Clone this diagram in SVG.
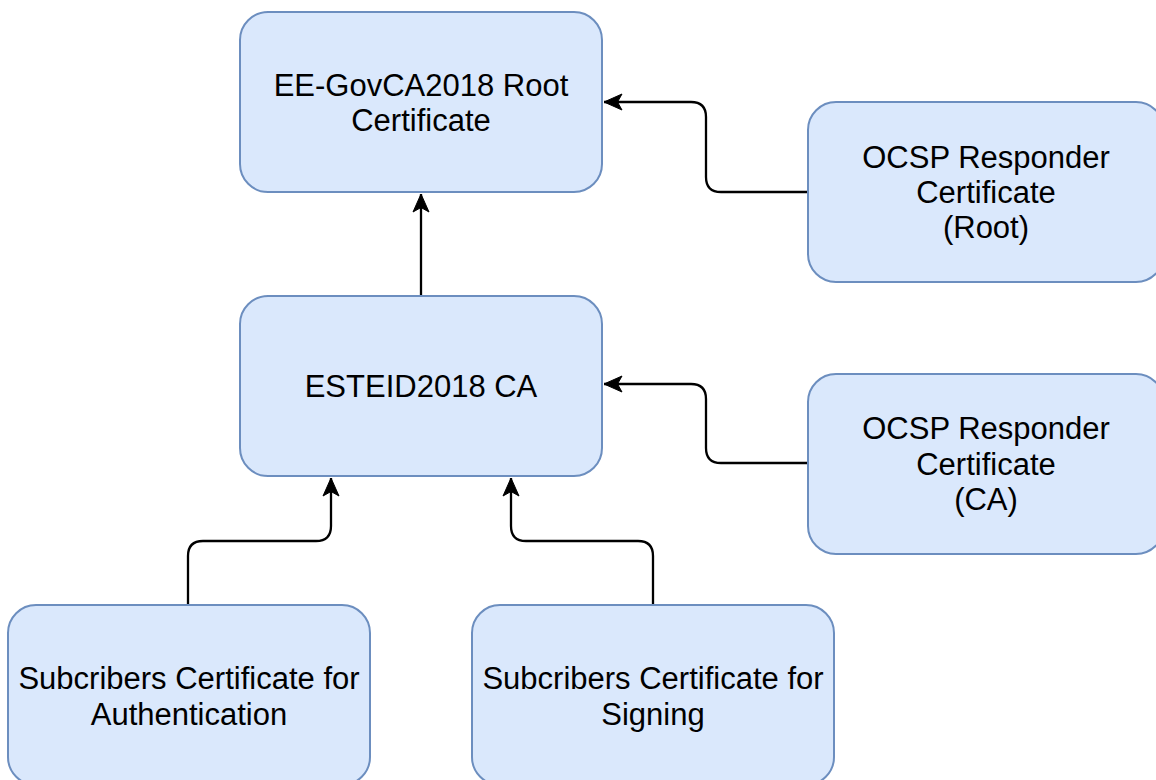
<svg xmlns="http://www.w3.org/2000/svg" width="1156" height="780" viewBox="0 0 1156 780">
<style>
.box{fill:#dae8fc;stroke:#6c8ebf;stroke-width:2}
.lbl{font-family:"Liberation Sans",Arial,sans-serif;font-size:31px;fill:#000;text-anchor:middle}
.edge{fill:none;stroke:#000;stroke-width:2.3}
</style>
<defs>
<marker id="arr" markerUnits="userSpaceOnUse" markerWidth="24" markerHeight="24" viewBox="0 0 24 24" refX="21" refY="12" orient="auto">
<path d="M21 12 L3 4 L7.5 12 L3 20 Z" fill="#000" stroke="#000" stroke-width="1"/>
</marker>
</defs>
<rect width="1156" height="780" fill="#fff"/>
<g id="connectors">
<path class="edge" d="M421 296 V194" marker-end="url(#arr)"/>
<path class="edge" d="M808 192 H721 Q706 192 706 177 V117 Q706 102 691 102 H604" marker-end="url(#arr)"/>
<path class="edge" d="M808 463 H721 Q706 463 706 448 V399 Q706 384 691 384 H604" marker-end="url(#arr)"/>
<path class="edge" d="M188 605 V556 Q188 541 203 541 H316 Q331 541 331 526 V478" marker-end="url(#arr)"/>
<path class="edge" d="M653 605 V556 Q653 541 638 541 H526 Q511 541 511 526 V478" marker-end="url(#arr)"/>
</g>
<g id="root">
<rect class="box" x="240" y="12" width="362" height="180" rx="28"/>
<text class="lbl" x="421" y="96">EE-GovCA2018 Root</text>
<text class="lbl" x="421" y="131">Certificate</text>
</g>
<g id="esteid">
<rect class="box" x="240" y="296" width="362" height="180" rx="28"/>
<text class="lbl" x="421" y="397">ESTEID2018 CA</text>
</g>
<g id="ocsp-root">
<rect class="box" x="808" y="102" width="356" height="180" rx="28"/>
<text class="lbl" x="986" y="168">OCSP Responder</text>
<text class="lbl" x="986" y="203">Certificate</text>
<text class="lbl" x="986" y="238">(Root)</text>
</g>
<g id="ocsp-ca">
<rect class="box" x="808" y="374" width="356" height="180" rx="28"/>
<text class="lbl" x="986" y="439">OCSP Responder</text>
<text class="lbl" x="986" y="475">Certificate</text>
<text class="lbl" x="986" y="510">(CA)</text>
</g>
<g id="sub-auth">
<rect class="box" x="8" y="605" width="362" height="180" rx="28"/>
<text class="lbl" x="189" y="689">Subcribers Certificate for</text>
<text class="lbl" x="189" y="725">Authentication</text>
</g>
<g id="sub-sign">
<rect class="box" x="472" y="605" width="362" height="180" rx="28"/>
<text class="lbl" x="653" y="689">Subcribers Certificate for</text>
<text class="lbl" x="653" y="725">Signing</text>
</g>
</svg>
